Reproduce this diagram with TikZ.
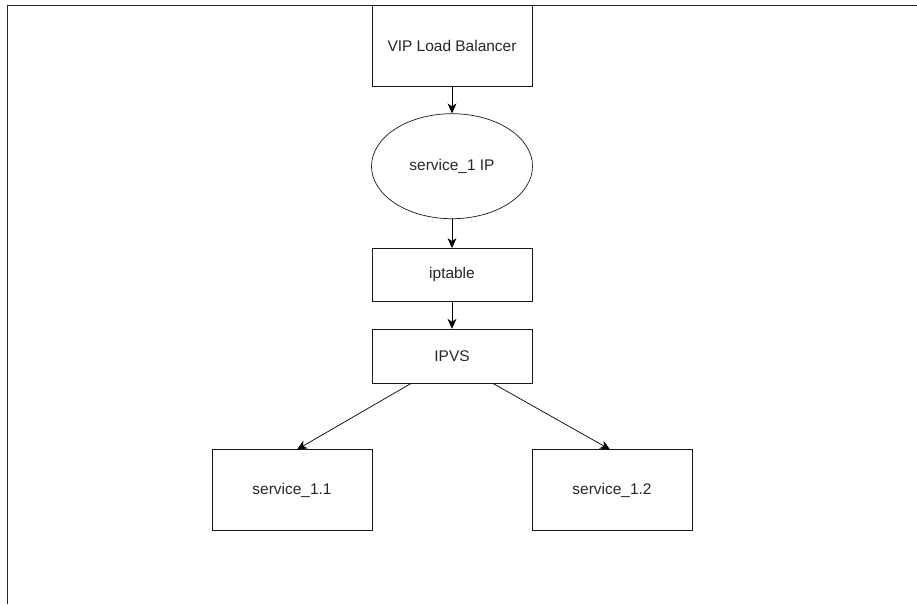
\documentclass[tikz,border=0pt]{standalone}
\usepackage{fontspec}
\setmainfont{Liberation Sans}
\usepackage{tikz}
\usetikzlibrary{shapes.geometric, positioning, arrows.meta, calc}
\tikzset{
	>={Stealth[length=5.6pt,width=5pt,inset=1.6pt]},
	line width=1pt,
	every node/.style={font=\fontsize{8.8}{10}\selectfont, text=black!85},
	box/.style={draw=black!90, rectangle, minimum width=3.2cm, inner sep=0pt},
	blob/.style={draw=black!90, ellipse, minimum width=3.22cm, minimum height=2.1cm, inner sep=0pt},
}

\begin{document}
\begin{tikzpicture}
		\useasboundingbox (0,0) rectangle (18.34,-12.08);
		\draw[black!85] (18.34,-0.1) -- (0.14,-0.1) -- (0.14,-12.08);

		\node[box, minimum height=1.62cm] (VIP) at (9.04,-0.91) {VIP Load Balancer};
		\node[blob, below=0.54cm of VIP] (SIP) {service\_1 IP};
		\node[box, minimum height=1.06cm, below=0.58cm of SIP] (IPT) {iptable};
		\node[box, minimum height=1.08cm, below=0.54cm of IPT] (IPVS) {IPVS};
		\node[box, minimum height=1.62cm, below=1.32cm of IPVS, xshift=-3.2cm] (S11) {service\_1.1};
		\node[box, minimum height=1.62cm, below=1.32cm of IPVS, xshift=3.2cm] (S12) {service\_1.2};

		\path[->]
			(VIP) edge (SIP)
			(SIP) edge (IPT)
			(IPT) edge (IPVS)
			%
			($(IPVS.south)+(-0.82,0)$) edge ($(S11.north)+(0.1,0)$)
			($(IPVS.south)+(0.82,0)$) edge ($(S12.north)+(-0.04,0)$)
		;
	\end{tikzpicture}
\end{document}
